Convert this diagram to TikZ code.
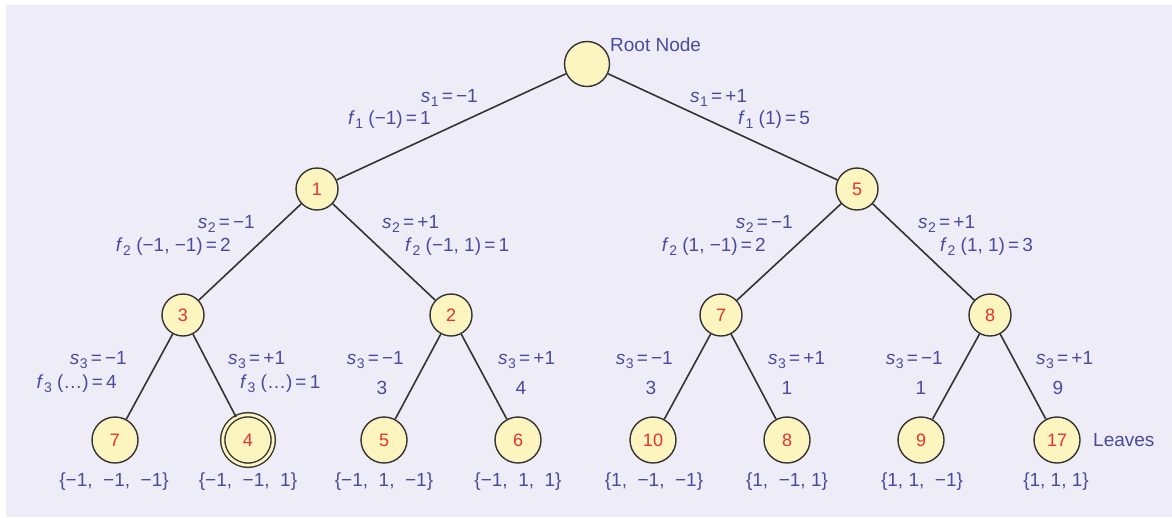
\documentclass[tikz,border=0pt]{standalone}
\usepackage{fontspec}
\setmainfont{Liberation Sans}
\definecolor{bg}{HTML}{EEEDF7}
\definecolor{lab}{HTML}{4A4A9E}
\definecolor{num}{HTML}{E8322E}
\definecolor{fillc}{HTML}{FDF5BF}
\definecolor{edge}{HTML}{333333}
\newcommand{\sv}[1]{\textit{s}\kern0.5pt\raisebox{-0.35ex}{\fontsize{14}{14}\selectfont #1}}
\newcommand{\fv}[1]{\textit{f}\kern0.5pt\raisebox{-0.35ex}{\fontsize{14}{14}\selectfont #1}}
\newcommand{\eqs}{\,=\,}
\begin{document}
\begin{tikzpicture}[x=1pt,y=-1pt,
  treenode/.style={circle,draw=edge,line width=1.4pt,fill=fillc,minimum size=42pt,inner sep=0pt,text=num,font=\fontsize{18}{18}\selectfont},
  leafnode/.style={treenode,minimum size=46pt},
  lbl/.style={text=lab,font=\fontsize{19}{21}\selectfont,inner sep=0pt},
  conn/.style={draw=edge,line width=1.6pt}]
\useasboundingbox (0,0) rectangle (1172,517);
\fill[white] (0,0) rectangle (1172,517);
\fill[bg] (6,5) rectangle (1172,517);
% nodes
\node[treenode,minimum size=45pt] (root) at (587,64) {};
\node[treenode] (a1) at (317,189) {1};
\node[treenode] (a5) at (857,189) {5};
\node[treenode] (b3) at (183,315) {3};
\node[treenode] (b2) at (451,315) {2};
\node[treenode] (b7) at (721,315) {7};
\node[treenode] (b8) at (990,315) {8};
\node[leafnode] (c7) at (115,440) {7};
\node[leafnode,double=fillc,double distance=2.8pt,minimum size=50.5pt] (c4) at (248,440) {4};
\node[leafnode] (c5) at (384,440) {5};
\node[leafnode] (c6) at (518,440) {6};
\node[leafnode] (c10) at (653,440) {10};
\node[leafnode] (c8) at (787,440) {8};
\node[leafnode] (c9) at (921,440) {9};
\node[leafnode] (c17) at (1057,440) {17};
% edges
\draw[conn] (root) -- (a1);
\draw[conn] (root) -- (a5);
\draw[conn] (a1) -- (b3);
\draw[conn] (a1) -- (b2);
\draw[conn] (a5) -- (b7);
\draw[conn] (a5) -- (b8);
\draw[conn] (b3) -- (c7);
\draw[conn] (b3) -- (c4);
\draw[conn] (b2) -- (c5);
\draw[conn] (b2) -- (c6);
\draw[conn] (b7) -- (c10);
\draw[conn] (b7) -- (c8);
\draw[conn] (b8) -- (c9);
\draw[conn] (b8) -- (c17);
% labels
\node[lbl,anchor=west] (tRoot) at (610,45) {Root Node};
\node[lbl,anchor=west] (tLeaves) at (1093,440) {Leaves};
\node[lbl,anchor=east] (l1a) at (478,98) {\sv{1}\eqs−1};
\node[lbl,anchor=east] (l1b) at (431,120) {\fv{1} (−1)\eqs 1};
\node[lbl,anchor=west] (r1a) at (690,98) {\sv{1}\eqs+1};
\node[lbl,anchor=west] (r1b) at (738,120) {\fv{1} (1)\eqs 5};
\node[lbl,anchor=east] (l2a) at (255,224) {\sv{2}\eqs−1};
\node[lbl,anchor=east] (l2b) at (231,247) {\fv{2} (−1, −1)\eqs 2};
\node[lbl,anchor=west] (m2a) at (382,224) {\sv{2}\eqs+1};
\node[lbl,anchor=west] (m2b) at (405,247) {\fv{2} (−1, 1)\eqs 1};
\node[lbl,anchor=east] (n2a) at (793,224) {\sv{2}\eqs−1};
\node[lbl,anchor=east] (n2b) at (766,247) {\fv{2} (1, −1)\eqs 2};
\node[lbl,anchor=west] (r2a) at (918,224) {\sv{2}\eqs+1};
\node[lbl,anchor=west] (r2b) at (940,247) {\fv{2} (1, 1)\eqs 3};
% level 3 labels
\node[lbl,anchor=east] (p1a) at (127,360) {\sv{3}\eqs−1};
\node[lbl,anchor=east] (p1b) at (117,384) {\fv{3} (…)\eqs 4};
\node[lbl,anchor=west] (p2a) at (228,360) {\sv{3}\eqs+1};
\node[lbl,anchor=west] (p2b) at (240,384) {\fv{3} (…)\eqs 1};
\node[lbl,anchor=east] (p3a) at (404,360) {\sv{3}\eqs−1};
\node[lbl] (p3b) at (382,388) {3};
\node[lbl,anchor=west] (p4a) at (498,360) {\sv{3}\eqs+1};
\node[lbl] (p4b) at (521,388) {4};
\node[lbl,anchor=east] (p5a) at (673,360) {\sv{3}\eqs−1};
\node[lbl] (p5b) at (651,388) {3};
\node[lbl,anchor=west] (p6a) at (768,360) {\sv{3}\eqs+1};
\node[lbl] (p6b) at (787,388) {1};
\node[lbl,anchor=east] (p7a) at (943,360) {\sv{3}\eqs−1};
\node[lbl] (p7b) at (921,388) {1};
\node[lbl,anchor=west] (p8a) at (1036,360) {\sv{3}\eqs+1};
\node[lbl] (p8b) at (1058,388) {9};
% sets
\node[lbl] (s1) at (114,482) {\{−1,\ \ −1,\ \ −1\}};
\node[lbl] (s2) at (248,482) {\{−1,\ \ −1,\ \ 1\}};
\node[lbl] (s3) at (384,482) {\{−1,\ \ 1,\ \ −1\}};
\node[lbl] (s4) at (518,482) {\{−1,\ \ 1,\ \ 1\}};
\node[lbl] (s5) at (654,482) {\{1,\ \ −1,\ \ −1\}};
\node[lbl] (s6) at (787,482) {\{1,\ \ −1, 1\}};
\node[lbl] (s7) at (922,482) {\{1, 1,\ \ −1\}};
\node[lbl] (s8) at (1056,482) {\{1, 1, 1\}};
\end{tikzpicture}
\end{document}
